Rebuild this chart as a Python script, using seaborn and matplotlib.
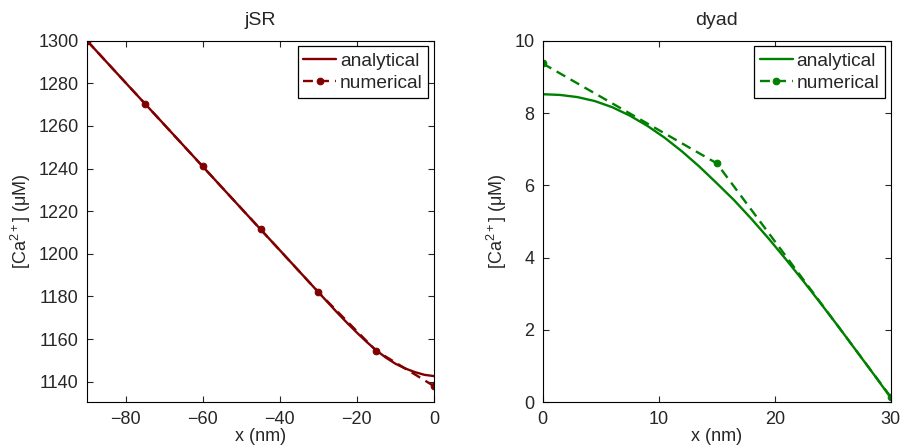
import numpy as np
import pandas as pd
import matplotlib
matplotlib.use("Agg")
import matplotlib.pyplot as plt
import seaborn as sns

# ---- data ----
jsr_ana_x = [-90, -80, -70, -60, -50, -40, -30, -25, -22.5, -20, -17.5, -15, -12.5,
             -10, -7.5, -5, -2.5, 0]
jsr_ana_y = [1300, 1280.3, 1260.7, 1241, 1221.3, 1201.7, 1182, 1172.2, 1167.5, 1163.0,
             1158.7, 1154.7, 1151.3, 1148.4, 1146.2, 1144.5, 1143.2, 1142.6]
jsr_num_x = [-90, -75, -60, -45, -30, -15, 0]
jsr_num_y = [1300, 1270.5, 1241, 1211.5, 1182, 1154.5, 1137.9]

dyad_ana_x = [0, 1.5, 3, 4.5, 6, 7.5, 9, 10.5, 12, 13.5, 15, 16.5, 18, 19.5, 21,
              22.5, 24, 25.5, 27, 28.5, 30]
dyad_ana_y = [8.52, 8.50, 8.44, 8.33, 8.16, 7.93, 7.65, 7.32, 6.94, 6.52, 6.06, 5.59,
              5.07, 4.52, 3.94, 3.34, 2.72, 2.09, 1.44, 0.79, 0.13]
dyad_num_x = [0, 15, 30]
dyad_num_y = [9.37, 6.61, 0.15]

titles = ["jSR", "dyad"]
jsr_yticks = [1140, 1160, 1180, 1200, 1220, 1240, 1260, 1280, 1300]
jsr_xticks = [-80, -60, -40, -20, 0]
dyad_yticks = [0, 2, 4, 6, 8, 10]
dyad_xticks = [0, 10, 20, 30]

sns.set_style("ticks")
plt.rcParams['font.family'] = ['Liberation Sans', 'DejaVu Sans']
plt.rcParams['mathtext.fontset'] = 'custom'
plt.rcParams['mathtext.rm'] = 'Liberation Sans'
plt.rcParams['mathtext.it'] = 'Liberation Sans:italic'

FS = 13
fig = plt.figure(figsize=(9.02, 4.46), dpi=100)
W, H = 902, 446
ax1 = fig.add_axes([87 / W, 1 - 402.3 / H, (434 - 87) / W, (402.3 - 40.7) / H])
ax2 = fig.add_axes([542.7 / W, 1 - 402.3 / H, (890.7 - 542.7) / W, (402.3 - 40.7) / H])

def draw(ax, ax_x, ax_y, nx, ny, color, title, xlim, ylim, xt, yt):
    da = pd.DataFrame({"x": ax_x, "y": ax_y})
    dn = pd.DataFrame({"x": nx, "y": ny})
    sns.lineplot(data=da, x="x", y="y", ax=ax, color=color, lw=1.7,
                 label="analytical", sort=False)
    sns.lineplot(data=dn, x="x", y="y", ax=ax, color=color, lw=1.7,
                 linestyle=(0, (4.2, 2.6)), marker="o", markersize=4.8,
                 markeredgecolor=color, label="numerical", sort=False)
    ax.set_xlim(*xlim)
    ax.set_ylim(*ylim)
    ax.set_xticks(xt)
    ax.set_yticks(yt)
    ax.set_title(title, fontsize=14, pad=11)
    ax.set_xlabel("x (nm)", fontsize=FS, labelpad=0)
    ax.set_ylabel(r"$\mathregular{[Ca^{2+}]}$ (μM)", fontsize=FS, labelpad=4)
    ax.tick_params(direction="in", top=True, right=True, labelsize=FS,
                   length=4, width=0.8, pad=6)
    for s in ax.spines.values():
        s.set_visible(True)
        s.set_linewidth(0.8)
        s.set_color("black")
    leg = ax.legend(loc="upper right", fontsize=13.8, fancybox=False,
                    framealpha=1, edgecolor="black", borderpad=0.3,
                    handlelength=1.7, handletextpad=0.2, labelspacing=0.25,
                    borderaxespad=0.3)
    leg.get_frame().set_linewidth(0.9)

draw(ax1, jsr_ana_x, jsr_ana_y, jsr_num_x, jsr_num_y, "#800000", titles[0],
     (-90, 0), (1130.3, 1300), jsr_xticks, jsr_yticks)
draw(ax2, dyad_ana_x, dyad_ana_y, dyad_num_x, dyad_num_y, "#008000", titles[1],
     (0, 30), (0, 10), dyad_xticks, dyad_yticks)

fig.savefig("out.png", dpi=100)
